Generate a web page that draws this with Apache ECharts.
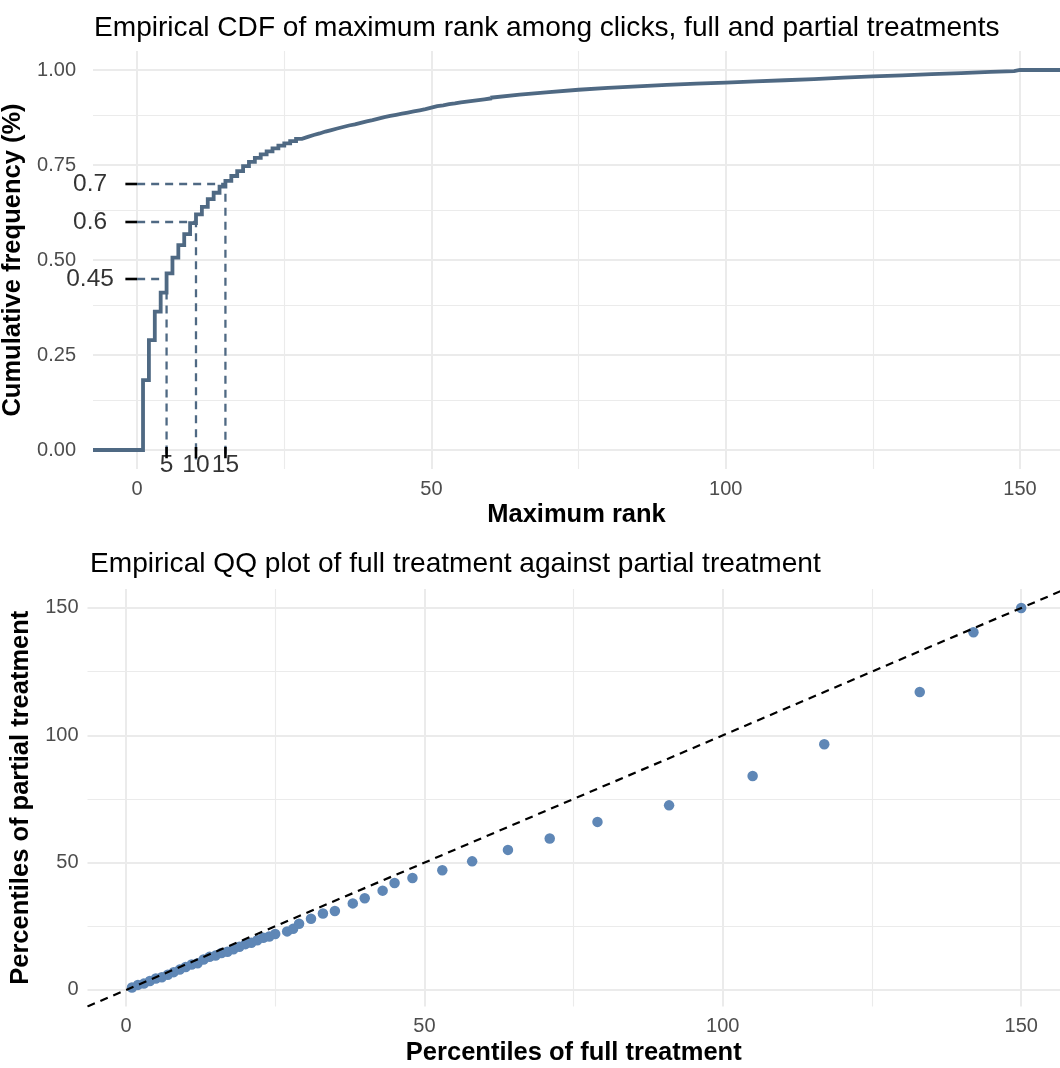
<!DOCTYPE html>
<html><head><meta charset="utf-8">
<script src="https://cdn.jsdelivr.net/npm/echarts@6/dist/echarts.min.js"></script>
<style>html,body{margin:0;padding:0;background:#fff}#c{width:1060px;height:1068px}</style>
</head><body><div id="c"></div>
<script>
const FONT = "'Liberation Sans', Arial, Helvetica, sans-serif";

// ---------- Top panel: empirical CDF ----------
// step part (every integer rank)
const cdfRank  = [1,2,3,4,5,6,7,8,9,10,11,12,13,14,15,16,17,18,19,20,
                  21,22,23,24,25,26,27,28,29,30,31,32,33,34,35,36,37,38,39,40,
                  41,42,43,44,45,46,47,48,49,50,51,52,53,54,55,56,57,58,59,60];
const cdfValue = [0.184,0.289,0.364,0.414,0.465,0.506,0.539,0.568,0.597,0.620,
                  0.640,0.660,0.677,0.693,0.708,0.721,0.734,0.747,0.758,0.769,
                  0.778,0.786,0.794,0.801,0.807,0.813,0.819,0.824,0.829,0.833,
                  0.838,0.842,0.846,0.850,0.854,0.857,0.861,0.865,0.868,0.872,
                  0.876,0.879,0.882,0.885,0.888,0.891,0.894,0.897,0.901,0.905,
                  0.907,0.910,0.912,0.915,0.917,0.919,0.921,0.923,0.925,0.927];
// upper tail (readings along the fine staircase)
const cdfTailRank  = [60,65,70,75,80,85,90,95,100,
                      105,110,115,120,125,130,135,140,145,149,150];
const cdfTailValue = [0.927,0.935,0.942,0.948,0.953,0.957,0.961,0.964,0.967,
                      0.970,0.973,0.976,0.980,0.983,0.986,0.989,0.992,0.995,0.997,1.000];
const cdfXTicks = [0, 50, 100, 150];
const cdfXMinor = [25, 75, 125];
const cdfYTicks = [0, 0.25, 0.5, 0.75, 1];
const cdfYMinor = [0.125, 0.375, 0.625, 0.875];
const markLevels = [0.45, 0.6, 0.7];
const markLevelLabels = ['0.45', '0.6', '0.7'];
const markRanks = [5, 10, 15];
const markRankLabels = ['5', '10', '15'];

// ---------- Bottom panel: QQ plot ----------
const qqFull    = [1,2,3,4,5,6,7,8,9,10,11,12,13,14,15,16,17,18,19,20,21,22,23,24,25,
                   27,28,29,31,33,35,38,40,43,45,48,53,58,64,71,79,91,105,117,133,142,150];
const qqPartial = [1,2,2.5,3.5,4.5,5,6,7,8,9,10,10.5,12,13,13.5,14.5,15,16,17,18,18.5,19.5,20.5,21,22,
                   23,24,26,28,30,31,34,36,39,42,44,47,50.5,55,59.5,66,72.5,84,96.5,117,140.5,150];
const qqTicks = [0, 50, 100, 150];
const qqMinor = [25, 75, 125];

// axis extents (ggplot-style 5% expansion)
const CDF_XMIN = -7.5, CDF_XMAX = 156.8, CDF_YMIN = -0.05, CDF_YMAX = 1.05;
const QQ_XMIN = -6.45, QQ_XMAX = 156.5, QQ_YMIN = -6.45, QQ_YMAX = 157.45;

const CURVE = '#4f6983';
const DOT = '#5f87b6';
const GRID = '#ebebeb';

function gridMarks(majX, minX, majY, minY) {
  const d = [];
  minX.forEach(v => d.push({xAxis: v, lineStyle: {color: GRID, width: 1.1, type: 'solid'}}));
  minY.forEach(v => d.push({yAxis: v, lineStyle: {color: GRID, width: 1.1, type: 'solid'}}));
  majX.forEach(v => d.push({xAxis: v, lineStyle: {color: GRID, width: 2, type: 'solid'}}));
  majY.forEach(v => d.push({yAxis: v, lineStyle: {color: GRID, width: 2, type: 'solid'}}));
  return d;
}

function xAxisDef(min, max, ticks, name, gap, grid) {
  return {
    type: 'value', gridIndex: grid, min: min, max: max,
    axisLine: {show: false}, axisTick: {show: false, customValues: ticks}, splitLine: {show: false},
    axisLabel: {customValues: ticks, color: '#4d4d4d', fontSize: 20, fontFamily: FONT, margin: 10},
    name: name, nameLocation: 'middle', nameGap: gap,
    nameTextStyle: {fontSize: 25.5, fontWeight: 'bold', color: '#000', fontFamily: FONT}
  };
}
function yAxisDef(min, max, ticks, name, gap, grid, margin, fmt) {
  return {
    type: 'value', gridIndex: grid, min: min, max: max,
    axisLine: {show: false}, axisTick: {show: false, customValues: ticks}, splitLine: {show: false},
    axisLabel: {customValues: ticks, color: '#4d4d4d', fontSize: 20, fontFamily: FONT, margin: margin,
                formatter: fmt},
    name: name, nameLocation: 'middle', nameGap: gap,
    nameTextStyle: {fontSize: 25.5, fontWeight: 'bold', color: '#000', fontFamily: FONT}
  };
}

const series = [];
// grid lines top
series.push({type: 'line', xAxisIndex: 0, yAxisIndex: 0, data: [], silent: true, z: 0,
  markLine: {silent: true, z: 0, symbol: ['none', 'none'], label: {show: false}, animation: false,
             data: gridMarks(cdfXTicks, cdfXMinor, cdfYTicks, cdfYMinor)}});
// dashed guides
markLevels.forEach((lv, i) => {
  const r = markRanks[i];
  series.push({type: 'line', xAxisIndex: 0, yAxisIndex: 0, z: 5, symbol: 'none', silent: true,
    data: [[0, lv], [r, lv], [r, -0.025]],
    lineStyle: {color: CURVE, width: 2.3, type: [8, 6]}});
  series.push({type: 'line', xAxisIndex: 0, yAxisIndex: 0, z: 6, symbol: 'none', silent: true, clip: false,
    data: [[-2, lv], [0, lv]], lineStyle: {color: '#000', width: 2.6}});
  series.push({type: 'line', xAxisIndex: 0, yAxisIndex: 0, z: 6, symbol: 'none', silent: true,
    data: [[r, 0.008], [r, -0.022]], lineStyle: {color: '#000', width: 2.6}});
});
// CDF curve: staircase part + fine-stepped tail
series.push({type: 'line', xAxisIndex: 0, yAxisIndex: 0, z: 10, step: 'end', symbol: 'none',
  data: [[CDF_XMIN, 0]].concat(cdfRank.map((r, i) => [r, cdfValue[i]])),
  lineStyle: {color: CURVE, width: 3.8, cap: 'butt', join: 'miter'}});
series.push({type: 'line', xAxisIndex: 0, yAxisIndex: 0, z: 10, symbol: 'none',
  data: cdfTailRank.map((r, i) => [r, cdfTailValue[i]]).concat([[CDF_XMAX, 1]]),
  lineStyle: {color: CURVE, width: 3.8, cap: 'butt', join: 'miter'}});
// annotation labels
series.push({type: 'scatter', xAxisIndex: 0, yAxisIndex: 0, z: 12, symbolSize: 0, clip: false, silent: true,
  data: markLevels.map((lv, i) => ({value: [-8, lv], name: markLevelLabels[i]})),
  label: {show: true, position: 'inside', formatter: p => p.name, color: '#000', fontSize: 24.5, fontFamily: FONT}});
series.push({type: 'scatter', xAxisIndex: 0, yAxisIndex: 0, z: 12, symbolSize: 0, clip: false, silent: true,
  data: markRanks.map((r, i) => ({value: [r, -0.04], name: markRankLabels[i]})),
  label: {show: true, position: 'inside', formatter: p => p.name, color: '#000', fontSize: 24.5, fontFamily: FONT}});

// grid lines bottom
series.push({type: 'line', xAxisIndex: 1, yAxisIndex: 1, data: [], silent: true, z: 0,
  markLine: {silent: true, z: 0, symbol: ['none', 'none'], label: {show: false}, animation: false,
             data: gridMarks(qqTicks, qqMinor, qqTicks, qqMinor)}});
series.push({type: 'scatter', xAxisIndex: 1, yAxisIndex: 1, z: 10, symbolSize: 10.5,
  itemStyle: {color: DOT, opacity: 1},
  data: qqFull.map((v, i) => [v, qqPartial[i]])});
series.push({type: 'line', xAxisIndex: 1, yAxisIndex: 1, z: 12, symbol: 'none', silent: true,
  data: [[QQ_XMIN, QQ_XMIN], [QQ_YMAX, QQ_YMAX]],
  lineStyle: {color: '#000', width: 2.2, type: [8, 6]}});

const option = {
  animation: false,
  backgroundColor: '#ffffff',
  title: [
    {text: 'Empirical CDF of maximum rank among clicks, full and partial treatments', left: 94, top: 14, padding: 0,
     textStyle: {fontSize: 28.1, fontWeight: 'normal', color: '#000', fontFamily: FONT}},
    {text: 'Empirical QQ plot of full treatment against partial treatment', left: 90, top: 550, padding: 0,
     textStyle: {fontSize: 28.1, fontWeight: 'normal', color: '#000', fontFamily: FONT}}
  ],
  grid: [
    {left: 93, right: 0, top: 51, height: 418, containLabel: false, outerBoundsMode: 'none'},
    {left: 87.5, right: 0, top: 589, height: 417.4, containLabel: false, outerBoundsMode: 'none'}
  ],
  xAxis: [
    xAxisDef(CDF_XMIN, CDF_XMAX, cdfXTicks, 'Maximum rank', 33, 0),
    xAxisDef(QQ_XMIN, QQ_XMAX, qqTicks, 'Percentiles of full treatment', 33.5, 1)
  ],
  yAxis: [
    yAxisDef(CDF_YMIN, CDF_YMAX, cdfYTicks, 'Cumulative frequency (%)', 58, 0, 17, v => v.toFixed(2)),
    yAxisDef(QQ_YMIN, QQ_YMAX, qqTicks, 'Percentiles of partial treatment', 52.5, 1, 9, v => String(v))
  ],
  series: series
};
const chart = echarts.init(document.getElementById('c'));
chart.setOption(option);
</script>
</body></html>
